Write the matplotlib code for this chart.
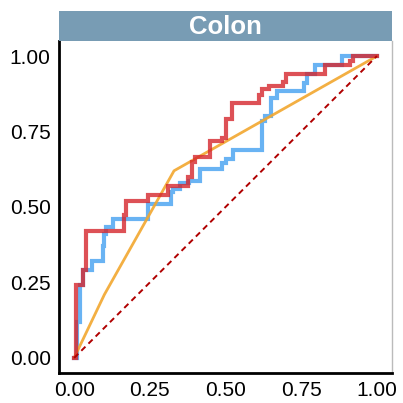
import matplotlib
matplotlib.use("Agg")
import matplotlib.pyplot as plt

plt.rcParams['font.family'] = ['Liberation Sans', 'DejaVu Sans']

# curve data (false positive rate, true positive rate)
red_fpr = [0.0, 0.007, 0.007, 0.028, 0.028, 0.04, 0.04, 0.165, 0.165, 0.17, 0.17, 0.245, 0.245,
           0.31, 0.31, 0.377, 0.377, 0.39, 0.39, 0.40, 0.40, 0.45, 0.45, 0.49, 0.49, 0.50, 0.50,
           0.52, 0.52, 0.61, 0.61, 0.62, 0.62, 0.645, 0.645, 0.69, 0.69, 0.70, 0.70, 0.73, 0.73,
           0.83, 0.83, 0.84, 0.84, 0.91, 0.91, 0.92, 0.92, 1.0]
red_tpr = [0.0, 0.0, 0.24, 0.24, 0.29, 0.29, 0.42, 0.42, 0.475, 0.475, 0.52, 0.52, 0.54,
           0.54, 0.57, 0.57, 0.60, 0.60, 0.65, 0.65, 0.667, 0.667, 0.72, 0.72, 0.73, 0.73, 0.79,
           0.79, 0.845, 0.845, 0.87, 0.87, 0.89, 0.89, 0.90, 0.90, 0.915, 0.915, 0.94, 0.94, 0.94,
           0.94, 0.97, 0.97, 0.97, 0.97, 0.985, 0.985, 1.0, 1.0]

blue_fpr = [0.0, 0.01, 0.01, 0.02, 0.02, 0.03, 0.03, 0.06, 0.06, 0.095, 0.095, 0.10, 0.10,
            0.105, 0.105, 0.13, 0.13, 0.165, 0.165, 0.245, 0.245, 0.25, 0.25, 0.32, 0.32,
            0.325, 0.325, 0.35, 0.35, 0.38, 0.38, 0.415, 0.415, 0.49, 0.49, 0.50, 0.50, 0.525,
            0.525, 0.535, 0.535, 0.62, 0.62, 0.63, 0.63, 0.65, 0.65, 0.67, 0.67, 0.685, 0.685,
            0.76, 0.76, 0.77, 0.77, 0.795, 0.795, 0.80, 0.80, 0.885, 0.885, 0.89, 0.89, 1.0]
blue_tpr = [0.0, 0.0, 0.12, 0.12, 0.24, 0.24, 0.29, 0.29, 0.32, 0.32, 0.37, 0.37, 0.41,
            0.41, 0.435, 0.435, 0.46, 0.46, 0.46, 0.46, 0.51, 0.51, 0.51, 0.51, 0.55,
            0.55, 0.56, 0.56, 0.58, 0.58, 0.585, 0.585, 0.625, 0.625, 0.645, 0.645, 0.66, 0.66,
            0.69, 0.69, 0.69, 0.69, 0.785, 0.785, 0.80, 0.80, 0.86, 0.86, 0.885, 0.885, 0.885,
            0.885, 0.91, 0.91, 0.94, 0.94, 0.97, 0.97, 0.97, 0.97, 1.0, 1.0, 1.0, 1.0]

orange_fpr = [0.0, 0.10, 0.33, 1.0]
orange_tpr = [0.0, 0.21, 0.62, 1.0]

ticks = [0.0, 0.25, 0.5, 0.75, 1.0]
tick_labels = ["0.00", "0.25", "0.50", "0.75", "1.00"]
panel_title = "Colon"

W = 403
fig = plt.figure(figsize=(4.03, 4.03), dpi=100)

# panel: x 59..392 px, y 41..373 px
ax = fig.add_axes([59 / W, (W - 373) / W, (392 - 59) / W, (373 - 41) / W])
ax.plot(blue_fpr, blue_tpr, color='#4FA6F2', lw=3.0, alpha=0.85, solid_joinstyle='miter')
ax.plot(orange_fpr, orange_tpr, color='#F2A72E', lw=2.0, alpha=0.9)
ax.plot(red_fpr, red_tpr, color='#D5262C', lw=3.0, alpha=0.8, solid_joinstyle='miter')
ax.plot([0, 1], [0, 1], color='#B00000', lw=1.4, ls=(0, (3, 2.2)))

ax.set_xlim(-0.05, 1.05)
ax.set_ylim(-0.05, 1.05)
ax.set_xticks(ticks)
ax.set_xticklabels(tick_labels)
ax.set_yticks(ticks)
ax.set_yticklabels(tick_labels)
ax.tick_params(length=0, labelsize=15, colors='black', pad=6)

for side in ['left', 'bottom']:
    ax.spines[side].set_color('black')
    ax.spines[side].set_linewidth(2.0)
ax.spines['right'].set_color('#BBBBBB')
ax.spines['right'].set_linewidth(1.0)
ax.spines['top'].set_visible(False)

# strip on top
strip = fig.add_axes([59 / W, (W - 41) / W, (392 - 59) / W, 30 / W])
strip.set_facecolor('#789CB4')
strip.set_xticks([])
strip.set_yticks([])
for s in strip.spines.values():
    s.set_visible(False)
strip.text(0.5, 0.45, panel_title, color='white', fontsize=18.5, fontweight='bold',
           ha='center', va='center', transform=strip.transAxes)

fig.savefig("out.png", dpi=100)
